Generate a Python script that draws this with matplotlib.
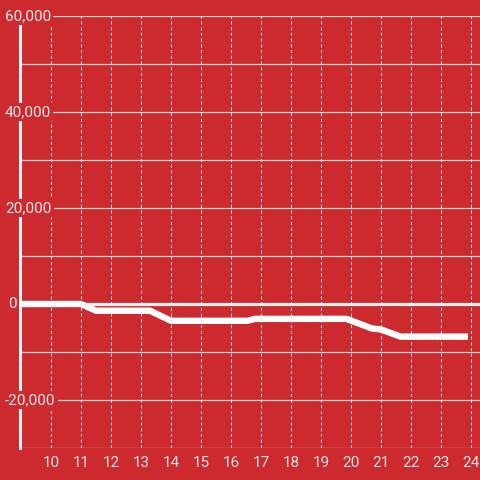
import matplotlib
matplotlib.use("Agg")
import matplotlib.pyplot as plt
from matplotlib.transforms import blended_transform_factory

# data
x_vals = [9, 11.0, 11.5, 13.3, 14.0, 16.55, 16.8, 19.85, 20.7, 21.0, 21.65, 23.9]
y_vals = [0, 0, -1400, -1400, -3500, -3500, -3100, -3100, -5100, -5300, -6800, -6800]
x_ticks = list(range(10, 25))
y_ticks = [60000, 40000, 20000, 0, -20000]
y_grid = list(range(-30000, 60001, 10000))

BG = "#cc2a2f"
TXT = "#f2e6e6"
plt.rcParams['font.family'] = ['Roboto', 'DejaVu Sans']

fig = plt.figure(figsize=(4.8, 4.8), dpi=100, facecolor=BG)
W = H = 480.0
ax = fig.add_axes([21 / W, 1 - 448 / H, 1 - 21 / W, (448 - 16) / H])
ax.set_facecolor(BG)
ax.set_xlim(9, 24.3)
ax.set_ylim(-30000, 60000)

for s in ['top', 'right', 'bottom']:
    ax.spines[s].set_visible(False)
ax.spines['left'].set_color('#f4f4f4')
ax.spines['left'].set_linewidth(2.2)
ax.spines['left'].set_position(('outward', 0.5))
ax.spines['left'].set_zorder(3)

for yv in y_grid:
    ax.axhline(yv, color='#d9d2d2', lw=0.9, zorder=1)
for xv in x_ticks:
    ax.axvline(xv, color='#e8e0e0', lw=0.75, linestyle=(0, (3, 2.5)), zorder=1)
ax.axhline(0, color='#f4f0f0', lw=2.3, zorder=2)

ax.plot(x_vals, y_vals, color='white', lw=4.6, solid_joinstyle='round',
        solid_capstyle='butt', zorder=4)

ax.set_xticks(x_ticks)
ax.set_xticklabels([str(v) for v in x_ticks])
ax.tick_params(axis='x', length=0, pad=5.5, labelsize=11, labelcolor=TXT)
ax.set_yticks([])

trans = blended_transform_factory(fig.transFigure, ax.transData)
for yv in y_ticks:
    lab = "{:,}".format(yv).replace("\u2212", "-")
    xpos = 8 / W if yv == 0 else 5 / W
    ax.text(xpos, yv, lab, transform=trans, ha='left', va='center',
            fontsize=11, color=TXT, zorder=10, clip_on=False,
            bbox=dict(facecolor=BG, edgecolor='none', pad=1.5))

fig.savefig("out.png", dpi=100, facecolor=BG)
